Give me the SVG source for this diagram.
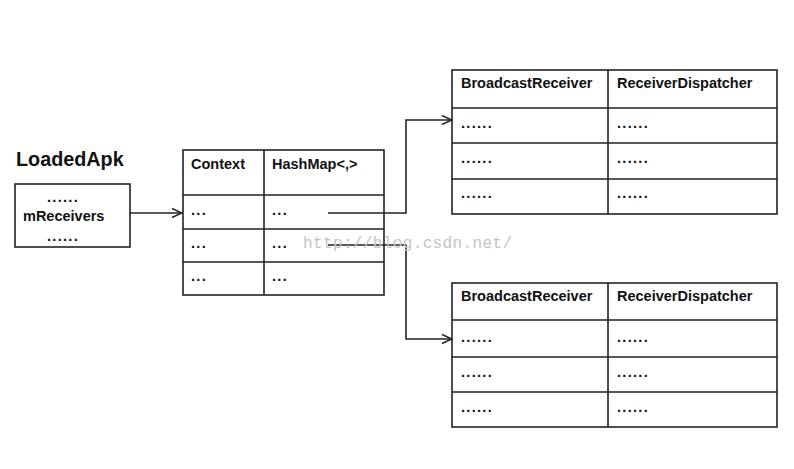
<svg xmlns="http://www.w3.org/2000/svg" width="794" height="469" viewBox="0 0 794 469">
<defs>
<marker id="arr" markerWidth="12" markerHeight="12" refX="11" refY="6" orient="auto" markerUnits="userSpaceOnUse">
<path d="M1,1.5 L11,6 L1,10.5" fill="none" stroke="#222" stroke-width="1.4"/>
</marker>
</defs>
<style>
.b{fill:#fff;stroke:#222;stroke-width:1.6}
.l{stroke:#222;stroke-width:1.6;fill:none}
.t{font-family:"Liberation Sans",Arial,sans-serif;font-weight:bold;font-size:14.5px;fill:#111}
.d{font-family:"Liberation Sans",Arial,sans-serif;font-weight:bold;font-size:14.5px;fill:#111;letter-spacing:1.3px}
.h{font-family:"Liberation Sans",Arial,sans-serif;font-weight:bold;font-size:19.8px;fill:#111}
.w{font-family:"Liberation Mono",monospace;font-size:16px;fill:#c4c4c4}
</style>
<rect width="794" height="469" fill="#fff"/>
<g id="loadedapk">
<text class="h" x="16" y="166">LoadedApk</text>
<rect class="b" x="15" y="184" width="115" height="63"/>
<text class="d" x="47" y="202">......</text>
<text class="t" x="23" y="221">mReceivers</text>
<text class="d" x="47" y="241">......</text>
</g>
<g id="hashmap">
<rect class="b" x="183" y="150" width="201" height="145"/>
<path class="l" d="M264,150 V295 M183,195 H384 M183,229 H384 M183,262 H384"/>
<text class="t" x="191" y="169">Context</text>
<text class="t" x="272" y="169">HashMap&lt;,&gt;</text>
<text class="d" x="191" y="215">...</text>
<text class="d" x="272" y="215">...</text>
<text class="d" x="191" y="248">...</text>
<text class="d" x="272" y="248">...</text>
<text class="d" x="191" y="281">...</text>
<text class="d" x="272" y="281">...</text>
</g>
<g id="map1">
<rect class="b" x="452" y="70" width="325" height="144"/>
<path class="l" d="M608,70 V214 M452,108 H777 M452,143 H777 M452,179 H777"/>
<text class="t" x="461" y="88">BroadcastReceiver</text>
<text class="t" x="617" y="88">ReceiverDispatcher</text>
<text class="d" x="461" y="128">......</text>
<text class="d" x="617" y="128">......</text>
<text class="d" x="461" y="163">......</text>
<text class="d" x="617" y="163">......</text>
<text class="d" x="461" y="198">......</text>
<text class="d" x="617" y="198">......</text>
</g>
<g id="map2">
<rect class="b" x="452" y="283" width="325" height="144"/>
<path class="l" d="M608,283 V427 M452,320 H777 M452,357 H777 M452,392 H777"/>
<text class="t" x="461" y="301">BroadcastReceiver</text>
<text class="t" x="617" y="301">ReceiverDispatcher</text>
<text class="d" x="461" y="342">......</text>
<text class="d" x="617" y="342">......</text>
<text class="d" x="461" y="377">......</text>
<text class="d" x="617" y="377">......</text>
<text class="d" x="461" y="412">......</text>
<text class="d" x="617" y="412">......</text>
</g>
<g id="connectors">
<path class="l" d="M130,213 H182" marker-end="url(#arr)"/>
<path class="l" d="M328,213 H406 V120 H452" marker-end="url(#arr)"/>
<path class="l" d="M328,245 H406 V339 H452" marker-end="url(#arr)"/>
</g>
<text class="w" x="303" y="248" textLength="209">http://blog.csdn.net/</text>
</svg>
